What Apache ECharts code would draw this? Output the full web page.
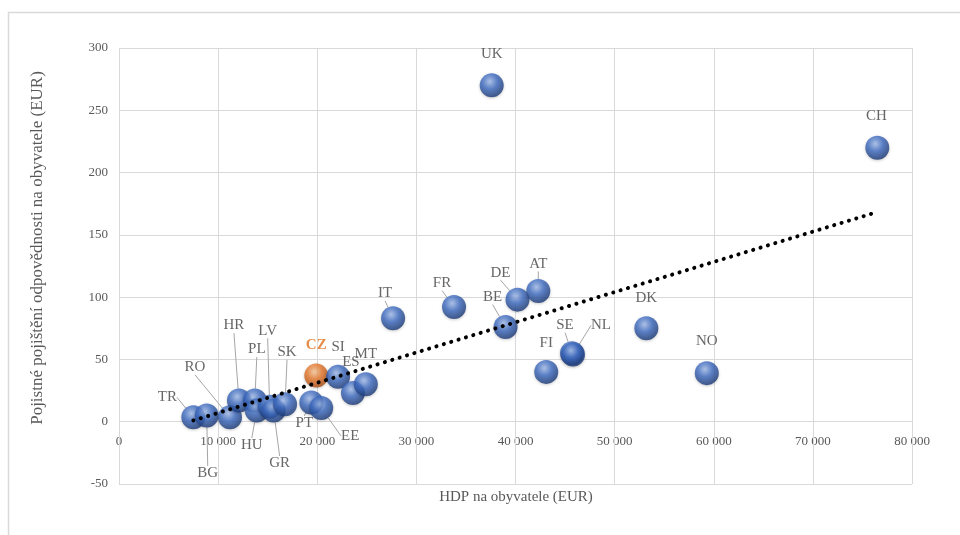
<!DOCTYPE html>
<html>
<head>
<meta charset="utf-8">
<script src="https://cdn.jsdelivr.net/npm/echarts@6/dist/echarts.min.js"></script>
<style>
  html, body { margin: 0; padding: 0; background: #fff; }
  #chart { width: 960px; height: 535px; }
</style>
</head>
<body>
<div id="chart"></div>
<script>
// Country codes
const countries = ['UK','CH','IT','FR','DE','AT','BE','DK','SE','NL','FI','NO','CZ','SI','ES','MT','PT','EE','TR','BG','RO','HR','PL','HU','LV','GR','SK'];
// GDP per capita (EUR)
const gdpPerCapita = [37600,76500,27650,33800,40200,42300,39000,53200,45700,45800,43100,59300,19900,22100,23600,24900,19400,20400,7500,8850,11200,12100,13700,13900,15200,15600,16750];
// Liability insurance premium per capita (EUR)
const premiumPerCapita = [270,220,83,92,98,105,76,75,55,54,40,39,37,36,23,30,15.5,11,3.5,5,3.5,17,17,9,12,9,14];
// Axis ticks
const xTicks = [0,10000,20000,30000,40000,50000,60000,70000,80000];
const yTicks = [-50,0,50,100,150,200,250,300];

const highlighted = 'CZ';

// Label placement relative to each marker (pixels) and whether a leader line is drawn
const labelPlacement = {
  UK: [0,-31,false], CH: [-1,-32,false], IT: [-8,-25,true], FR: [-12,-24,true],
  DE: [-17,-27,true], AT: [0,-27,true], BE: [-13,-30,true], DK: [0,-30,false],
  SE: [-7,-28,true], NL: [28,-29,true], FI: [0,-29,false], NO: [0,-32,false],
  CZ: [0,-30,false], SI: [0,-30,false], ES: [-2,-31,false], MT: [0,-30,false],
  PT: [-7,21,true], EE: [29,28,true], TR: [-26,-20,true], BG: [1,58,true],
  RO: [-35,-50,true], HR: [-5,-75,true], PL: [2,-51,true], HU: [-5,35,true],
  LV: [-2,-76,true], GR: [6,53,true], SK: [2,-52,true]
};

// Least-squares linear trend over the data range
const n = gdpPerCapita.length;
const mx = gdpPerCapita.reduce((a, b) => a + b, 0) / n;
const my = premiumPerCapita.reduce((a, b) => a + b, 0) / n;
let sxy = 0, sxx = 0;
for (let i = 0; i < n; i++) {
  sxy += (gdpPerCapita[i] - mx) * (premiumPerCapita[i] - my);
  sxx += (gdpPerCapita[i] - mx) * (gdpPerCapita[i] - mx);
}
const slope = sxy / sxx;
const intercept = my - slope * mx;
const xMin = Math.min(...gdpPerCapita), xMax = Math.max(...gdpPerCapita);
const trend = [[xMin, intercept + slope * xMin], [xMax, intercept + slope * xMax]];

function sphere(c0, c1, c2) {
  return {
    type: 'radial', x: 0.42, y: 0.34, r: 0.7,
    colorStops: [{ offset: 0, color: c0 }, { offset: 0.45, color: c1 }, { offset: 1, color: c2 }]
  };
}
const blueBall = sphere('#a3bdec', '#3d6bc2', '#16326c');
const orangeBall = sphere('#f9c99a', '#e8772a', '#a0440e');

const points = countries.map((c, i) => {
  const p = labelPlacement[c];
  const isHi = c === highlighted;
  return {
    name: c,
    value: [gdpPerCapita[i], premiumPerCapita[i]],
    itemStyle: { color: isHi ? orangeBall : blueBall },
    label: isHi ? { color: '#e0701e', fontWeight: 'bold' } : {},
    labelLine: { show: p[2] }
  };
});

const serif = 'Liberation Serif, Times New Roman, serif';
const fmt = v => v === 0 ? '0' : String(v).replace(/\B(?=(\d{3})+(?!\d))/g, ' ');

const chart = echarts.init(document.getElementById('chart'), null, { renderer: 'canvas' });
const frameGraphics = [
  { type: 'rect', shape: { x: 8.5, y: 12.5, width: 1000, height: 600 },
    style: { fill: 'none', stroke: '#d9d9d9', lineWidth: 1.5 }, silent: true, z: -10 },
  { type: 'text', x: 38, y: 248, rotation: Math.PI / 2,
    style: { text: 'Pojistné pojištění odpovědnosti na obyvatele (EUR)', font: '17px ' + serif,
      fill: '#595959', align: 'center', verticalAlign: 'middle' } },
  { type: 'text', x: 516, y: 497,
    style: { text: 'HDP na obyvatele (EUR)', font: '15px ' + serif,
      fill: '#595959', align: 'center', verticalAlign: 'middle' } }
];

chart.setOption({
  animation: false,
  backgroundColor: '#ffffff',
  grid: { left: 119, right: 48, top: 48, bottom: 51 },
  xAxis: {
    type: 'value', min: xTicks[0], max: xTicks[xTicks.length - 1], interval: 10000,
    axisLine: { show: false },
    axisTick: { show: false },
    splitLine: { show: true, lineStyle: { color: '#d9d9d9', width: 1 } },
    axisLabel: { show: false }
  },
  yAxis: {
    type: 'value', min: yTicks[0], max: yTicks[yTicks.length - 1], interval: 50,
    axisLine: { show: false },
    axisTick: { show: false },
    splitLine: { show: true, lineStyle: { color: '#d9d9d9', width: 1 } },
    axisLabel: { color: '#595959', fontFamily: serif, fontSize: 13, margin: 11 }
  },
  graphic: frameGraphics,
  series: [
    {
      type: 'scatter',
      z: 2,
      symbol: 'circle',
      symbolSize: 24,
      data: points,
      itemStyle: { shadowColor: 'rgba(0,0,0,0.25)', shadowBlur: 3, shadowOffsetY: 1 },
      label: {
        show: true, position: 'inside', formatter: '{b}',
        color: '#404040', fontFamily: serif, fontSize: 15
      },
      labelLine: { show: false, lineStyle: { color: '#a6a6a6', width: 1 } },
      labelLayout: function (params) {
        const p = labelPlacement[countries[params.dataIndex]];
        return { dx: p[0], dy: p[1], hideOverlap: false };
      },
      emphasis: { disabled: true }
    },
    {
      type: 'line',
      z: 3,
      data: trend,
      symbol: 'none',
      silent: true,
      lineStyle: { color: '#000', width: 4, type: [0.1, 7.6], cap: 'round' }
    }
  ]
});

// Horizontal axis labels sit along the zero line of the vertical axis
const xLabelGraphics = xTicks.map(t => {
  const pt = chart.convertToPixel({ gridIndex: 0 }, [t, 0]);
  return {
    type: 'text', x: pt[0], y: pt[1] + 20, silent: true,
    style: { text: fmt(t), font: '13px ' + serif, fill: '#595959', align: 'center', verticalAlign: 'middle' }
  };
});
chart.setOption({ graphic: frameGraphics.concat(xLabelGraphics) });
</script>
</body>
</html>
